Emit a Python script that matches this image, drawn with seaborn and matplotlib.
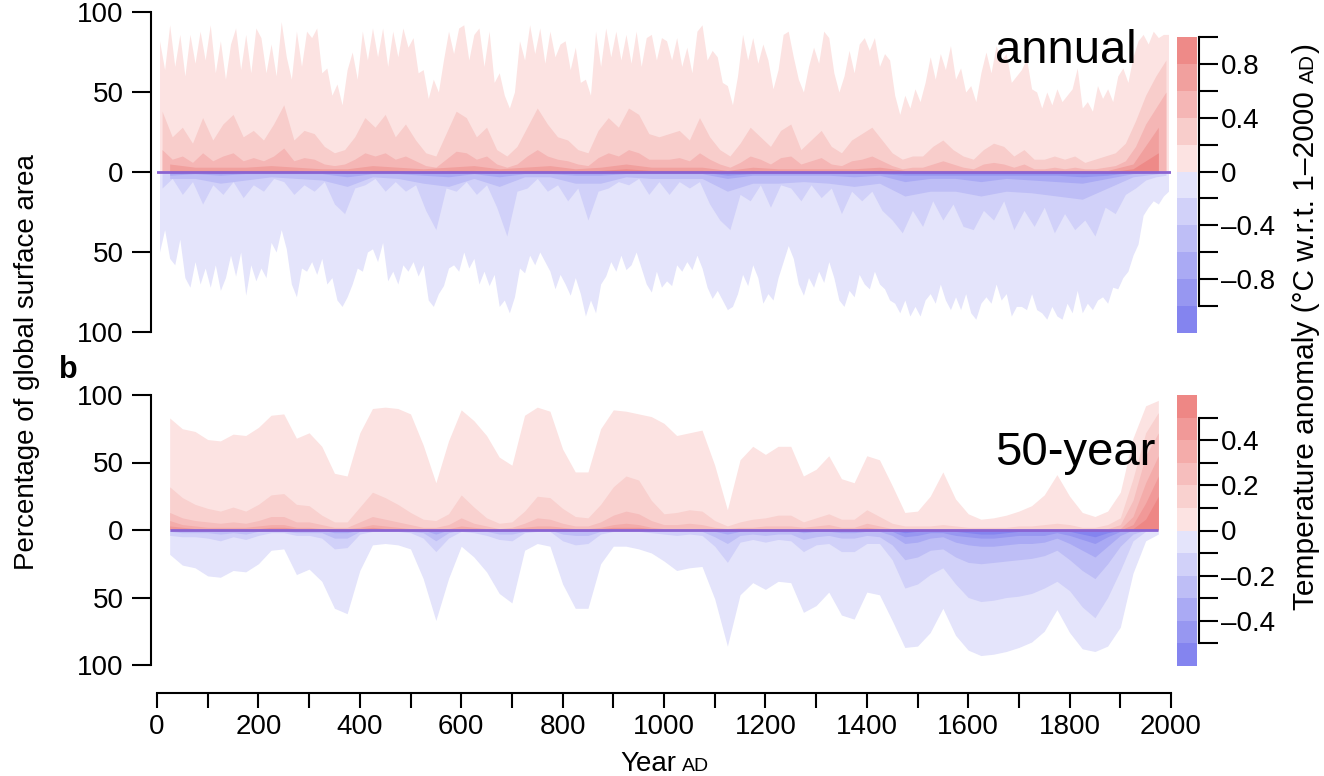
import numpy as np
import matplotlib
matplotlib.use("Agg")
import matplotlib.pyplot as plt
from matplotlib.colors import ListedColormap
from matplotlib.ticker import FuncFormatter
import seaborn as sns

# ---------------- data: annual panel (a) ----------------
ann_years10 = np.arange(5, 2000, 10)      # decade centres
ann_years20 = np.arange(10, 2000, 20)
ann_years50 = np.arange(25, 2000, 50)

# % of area with anomaly > 0 (upper envelope of the annual spikes)
ann_pos0 = [82, 64, 92, 66, 86, 60, 86, 68, 88, 70,
            92, 62, 82, 58, 80, 90, 64, 86, 62, 90,
            84, 62, 80, 60, 94, 72, 58, 88, 66, 88,
            84, 90, 62, 65, 48, 55, 42, 64, 75, 58,
            88, 70, 90, 72, 90, 66, 88, 72, 90, 78,
            84, 62, 64, 46, 58, 50, 70, 88, 74, 90,
            92, 70, 86, 90, 66, 88, 56, 62, 48, 40,
            50, 82, 70, 92, 74, 90, 68, 88, 72, 80,
            82, 64, 78, 56, 58, 48, 88, 66, 90, 72,
            88, 70, 86, 68, 88, 66, 84, 86, 70, 84,
            82, 70, 84, 66, 78, 62, 88, 92, 70, 76,
            72, 56, 54, 42, 60, 86, 70, 84, 68, 80,
            70, 52, 64, 86, 88, 72, 58, 50, 66, 78,
            68, 88, 84, 62, 50, 60, 76, 62, 80, 84,
            76, 84, 66, 74, 70, 48, 36, 48, 40, 52,
            44, 56, 72, 58, 74, 64, 79, 58, 65, 50,
            54, 44, 62, 75, 62, 79, 70, 74, 56, 60,
            64, 71, 52, 50, 40, 50, 42, 52, 44, 48,
            52, 65, 40, 44, 38, 54, 46, 52, 44, 60,
            65, 56, 72, 82, 86, 80, 88, 84, 86, 86]
# % of area with anomaly < 0
ann_neg0 = [50, 36, 54, 58, 42, 66, 72, 56, 70, 60,
            72, 58, 74, 66, 52, 65, 50, 77, 58, 68,
            60, 66, 44, 50, 36, 48, 70, 78, 60, 62,
            56, 64, 54, 70, 66, 80, 84, 78, 70, 60,
            62, 50, 48, 56, 44, 68, 62, 70, 58, 62,
            56, 65, 58, 80, 84, 76, 71, 60, 58, 62,
            50, 60, 54, 70, 62, 71, 64, 84, 80, 88,
            78, 60, 63, 52, 58, 50, 56, 62, 73, 64,
            70, 77, 66, 76, 90, 80, 88, 70, 65, 56,
            62, 52, 61, 58, 50, 60, 70, 75, 62, 72,
            68, 71, 58, 62, 56, 61, 52, 60, 72, 79,
            74, 80, 86, 84, 76, 64, 71, 58, 66, 82,
            76, 80, 66, 56, 46, 54, 70, 77, 66, 72,
            62, 69, 56, 66, 80, 84, 74, 78, 64, 70,
            73, 62, 70, 73, 80, 82, 88, 80, 90, 84,
            90, 80, 76, 82, 70, 80, 86, 78, 86, 76,
            88, 92, 82, 78, 82, 70, 80, 76, 90, 84,
            84, 86, 76, 86, 88, 92, 84, 90, 92, 82,
            88, 74, 88, 82, 86, 80, 78, 82, 72, 73,
            66, 62, 52, 45, 27, 22, 18, 20, 15, 12]
ann_pos1 = [38, 22, 28, 18, 34, 20, 30, 36, 22, 26,
            20, 30, 42, 20, 26, 24, 16, 12, 14, 22,
            34, 28, 36, 22, 30, 20, 12, 10, 24, 38,
            34, 22, 28, 14, 10, 16, 28, 40, 30, 22,
            20, 14, 12, 26, 34, 28, 40, 36, 24, 22,
            24, 26, 20, 34, 22, 14, 10, 18, 28, 22,
            16, 26, 30, 14, 20, 26, 16, 12, 20, 24,
            28, 20, 12, 8, 10, 10, 16, 20, 14, 10,
            8, 14, 18, 16, 10, 14, 8, 8, 10, 8,
            10, 6, 8, 10, 12, 18, 32, 48, 60, 70]
ann_pos2 = [14, 8, 10, 6, 12, 7, 10, 12, 7, 9,
            7, 10, 15, 7, 9, 8, 5, 4, 5, 8,
            12, 10, 12, 8, 10, 7, 4, 3, 8, 13,
            12, 8, 10, 5, 3, 5, 10, 14, 10, 8,
            7, 5, 4, 9, 12, 10, 14, 12, 8, 8,
            8, 9, 7, 12, 8, 5, 3, 6, 10, 8,
            5, 9, 10, 5, 7, 9, 5, 4, 7, 8,
            10, 7, 4, 2, 3, 3, 5, 7, 5, 3,
            2, 5, 6, 5, 3, 5, 2, 2, 3, 2,
            3, 2, 2, 3, 4, 7, 16, 30, 40, 50]
ann_pos3 = [5, 3, 3, 3, 4, 3, 2, 2, 4, 3, 2, 3, 4, 2, 3, 4, 2, 3, 5, 3,
            3, 3, 1, 3, 2, 2, 2, 2, 3, 1, 1, 1, 1, 1, 1, 1, 1, 1, 5, 28]
ann_pos4 = [1, 1, 1, 1, 1, 1, 0, 0, 1, 1, 0, 1, 1, 0, 1, 1, 0, 1, 2, 1,
            1, 1, 0, 1, 0, 0, 0, 0, 1, 0, 0, 0, 0, 0, 0, 0, 0, 0, 2, 12]
ann_neg1 = [10, 4, 14, 6, 20, 8, 14, 6, 16, 8,
            12, 4, 6, 14, 8, 12, 6, 20, 26, 10,
            8, 4, 12, 6, 12, 8, 24, 36, 10, 12,
            6, 14, 8, 22, 40, 12, 10, 4, 12, 8,
            18, 10, 30, 12, 10, 6, 8, 4, 14, 6,
            14, 6, 10, 6, 20, 30, 36, 14, 18, 8,
            22, 8, 10, 18, 8, 16, 10, 26, 12, 18,
            12, 24, 30, 38, 24, 34, 18, 30, 20, 34,
            36, 24, 30, 18, 36, 24, 34, 22, 38, 26,
            36, 30, 40, 22, 26, 14, 10, 5, 3, 2]
ann_neg2 = [4, 4, 7, 5, 3, 4, 5, 9, 3, 4, 7, 9, 4, 9, 3, 3, 7, 7, 3, 4,
            4, 4, 12, 7, 7, 6, 7, 9, 7, 15, 12, 12, 15, 12, 13, 15, 17, 10, 3, 1]
ann_neg3 = [2, 1, 2, 1, 1, 1, 1, 3, 1, 1, 2, 3, 1, 3, 1, 1, 2, 2, 1, 1,
            1, 1, 4, 2, 2, 2, 2, 3, 2, 6, 4, 4, 6, 4, 5, 6, 7, 4, 1, 0]
ann_neg4 = [1, 0, 1, 0, 0, 0, 0, 1, 0, 0, 1, 1, 0, 1, 0, 0, 1, 1, 0, 0,
            0, 0, 2, 1, 1, 1, 1, 1, 1, 2, 2, 2, 2, 2, 2, 2, 3, 2, 0, 0]
ann_neg5 = [0, 0, 0, 0, 0, 0, 0, 0, 0, 0, 0, 0, 0, 0, 0, 0, 0, 0, 0, 0,
            0, 0, 1, 0, 0, 0, 0, 0, 0, 1, 1, 1, 1, 1, 1, 1, 1, 1, 0, 0]

# ---------------- data: 50-year panel (b) ----------------
dec_years = np.arange(25, 1976, 25)
dec_pos0 = [83, 75, 73, 67, 66, 71, 70, 76, 85, 86,
            68, 72, 62, 42, 40, 72, 90, 91, 90, 86,
            63, 35, 66, 89, 81, 70, 54, 48, 85, 91,
            88, 60, 43, 43, 75, 89, 88, 86, 84, 79,
            70, 72, 74, 48, 15, 52, 62, 56, 62, 62,
            40, 45, 55, 38, 35, 55, 52, 33, 13, 14,
            25, 43, 23, 12, 8, 9, 11, 14, 18, 26,
            41, 25, 13, 10, 14, 28, 68, 92, 96]
dec_pos1 = [32, 24, 19, 16, 14, 17, 14, 19, 26, 27,
            19, 18, 11, 6, 6, 17, 28, 24, 19, 13,
            8, 7, 12, 26, 17, 9, 5, 6, 14, 25,
            24, 16, 10, 9, 19, 32, 40, 37, 22, 12,
            13, 15, 14, 7, 3, 6, 8, 9, 11, 11,
            6, 9, 12, 8, 8, 15, 10, 5, 3, 3,
            3, 4, 3, 2, 2, 2, 2, 3, 3, 4,
            5, 4, 2, 2, 4, 9, 38, 72, 87]
dec_pos2 = [13, 9, 7, 6, 5, 6, 5, 7, 10, 10,
            6, 6, 4, 2, 2, 6, 10, 8, 6, 4,
            2, 2, 4, 9, 5, 3, 1, 2, 5, 9,
            8, 5, 3, 3, 6, 11, 14, 12, 7, 4,
            4, 5, 4, 2, 1, 2, 2, 3, 3, 3,
            2, 3, 4, 2, 2, 5, 3, 1, 1, 1,
            1, 1, 1, 1, 1, 1, 1, 1, 1, 1,
            1, 1, 1, 1, 1, 4, 22, 55, 72]
dec_pos3 = [7, 4, 3, 2, 2, 2, 2, 3, 4, 4,
            2, 2, 1, 1, 1, 2, 4, 3, 2, 1,
            1, 1, 1, 3, 2, 1, 0, 1, 2, 3,
            3, 2, 1, 1, 2, 4, 5, 4, 2, 1,
            1, 1, 1, 0, 0, 1, 1, 1, 1, 1,
            1, 1, 1, 1, 1, 2, 1, 0, 0, 0,
            0, 0, 0, 0, 0, 0, 0, 0, 0, 0,
            0, 0, 0, 0, 0, 1, 10, 35, 55]
dec_pos4 = ([3, 2, 1, 1, 1, 1, 1, 1, 2, 2,
             1, 1, 0, 0, 0, 1, 2, 1, 1, 0,
             0, 0, 0, 1, 1, 0, 0, 0, 1, 1,
             1, 1, 0, 0, 1, 2, 2, 2, 1, 0]
            + [0] * 30 + [0, 0, 0, 0, 0, 0, 4, 20, 40])
dec_pos5 = [0] * 76 + [1, 8, 25]
dec_neg0 = [18, 26, 28, 34, 35, 30, 31, 25, 15, 14,
            33, 29, 38, 58, 62, 30, 11, 10, 11, 14,
            36, 67, 36, 12, 20, 31, 47, 54, 15, 10,
            12, 40, 58, 58, 25, 12, 12, 14, 17, 23,
            30, 28, 27, 51, 86, 48, 39, 44, 38, 39,
            61, 56, 46, 63, 66, 46, 48, 67, 87, 86,
            76, 58, 78, 89, 93, 92, 90, 87, 83, 75,
            59, 76, 88, 90, 86, 72, 32, 8, 3]
dec_neg1 = [4, 5, 5, 6, 8, 5, 7, 4, 2, 2,
            4, 4, 6, 14, 13, 3, 1, 1, 1, 2,
            6, 16, 6, 1, 2, 4, 7, 8, 2, 1,
            1, 8, 11, 10, 3, 1, 1, 1, 2, 3,
            4, 3, 4, 12, 24, 9, 7, 9, 7, 8,
            16, 11, 10, 16, 16, 10, 10, 22, 43, 40,
            33, 28, 40, 50, 53, 52, 50, 49, 47, 43,
            38, 45, 57, 65, 50, 30, 8, 1, 0]
dec_neg2 = [1, 2, 2, 2, 3, 2, 3, 1, 1, 1,
            2, 2, 2, 6, 6, 1, 0, 0, 0, 1,
            2, 8, 2, 0, 1, 1, 3, 3, 1, 0,
            0, 3, 4, 4, 1, 0, 0, 0, 1, 1,
            1, 1, 1, 5, 10, 4, 3, 4, 3, 3,
            7, 5, 4, 6, 6, 4, 5, 11, 22, 20,
            15, 14, 20, 24, 25, 24, 23, 22, 21, 19,
            15, 22, 30, 36, 25, 12, 3, 0, 0]
dec_neg3 = [0, 0, 0, 0, 1, 0, 1, 0, 0, 0,
            0, 0, 0, 2, 2, 0, 0, 0, 0, 0,
            0, 3, 0, 0, 0, 0, 1, 1, 0, 0,
            0, 1, 1, 1, 0, 0, 0, 0, 0, 0,
            0, 0, 0, 1, 3, 1, 0, 1, 0, 0,
            2, 1, 1, 2, 2, 1, 1, 4, 10, 9,
            6, 5, 9, 11, 12, 12, 11, 10, 10, 9,
            6, 10, 15, 20, 12, 4, 0, 0, 0]
dec_neg4 = ([0] * 44 + [1] + [0] * 5
            + [0, 0, 0, 0, 0, 0, 0, 1, 5, 4]
            + [2, 2, 4, 5, 6, 6, 5, 4, 4, 4]
            + [2, 4, 7, 10, 5, 1, 0, 0, 0])
dec_neg5 = ([0] * 50
            + [0, 0, 0, 0, 0, 0, 0, 0, 2, 1]
            + [0, 0, 1, 2, 3, 3, 2, 1, 1, 1]
            + [0, 1, 3, 5, 2, 0, 0, 0, 0])

x_ticks = list(range(0, 2001, 100))
x_labels = [str(v) if v % 200 == 0 else "" for v in x_ticks]
y_ticks = [-100, -50, 0, 50, 100]

ann_bounds = np.round(np.arange(-1.2, 1.01, 0.2), 1)
ann_ticks = np.round(np.arange(-1.0, 1.01, 0.2), 1)
ann_labelled = [-0.8, -0.4, 0.0, 0.4, 0.8]
dec_bounds = np.round(np.arange(-0.6, 0.61, 0.1), 1)
dec_ticks = np.round(np.arange(-0.5, 0.51, 0.1), 1)
dec_labelled = [-0.4, -0.2, 0.0, 0.2, 0.4]

# ---------------- style ----------------
sns.set_style("ticks")
plt.rcParams["font.family"] = ["Liberation Sans", "DejaVu Sans"]
plt.rcParams["axes.linewidth"] = 1.5
for k in ("text.color", "axes.labelcolor", "xtick.color", "ytick.color", "axes.edgecolor"):
    plt.rcParams[k] = "black"

ann_reds = sns.blend_palette(["#fce3e2", "#ee8a88"], 5)
ann_blues = sns.blend_palette(["#e4e4fb", "#8484ef"], 6)
dec_reds = sns.blend_palette(["#fce3e2", "#ee8785"], 6)
dec_blues = sns.blend_palette(["#e4e4fb", "#8484ef"], 6)
zero_col = "#8a63d2"

W, H = 1324, 776
fig = plt.figure(figsize=(W / 100, H / 100), dpi=100)


def rect(x0, y0, x1, y1):
    return [x0 / W, 1 - y1 / H, (x1 - x0) / W, (y1 - y0) / H]


ax1 = fig.add_axes(rect(157, 12, 1171, 332))
ax2 = fig.add_axes(rect(157, 395, 1171, 665))
cb1 = fig.add_axes(rect(1177, 37, 1197, 333))
cb2 = fig.add_axes(rect(1177, 395, 1197, 666))

# panel a
for xs, ys, c in [(ann_years10, ann_pos0, ann_reds[0]), (ann_years20, ann_pos1, ann_reds[1]),
                  (ann_years20, ann_pos2, ann_reds[2]), (ann_years50, ann_pos3, ann_reds[3]),
                  (ann_years50, ann_pos4, ann_reds[4])]:
    ax1.fill_between(xs, 0, np.asarray(ys, float), color=c, linewidth=0)
for xs, ys, c in [(ann_years10, ann_neg0, ann_blues[0]), (ann_years20, ann_neg1, ann_blues[1]),
                  (ann_years50, ann_neg2, ann_blues[2]), (ann_years50, ann_neg3, ann_blues[3]),
                  (ann_years50, ann_neg4, ann_blues[4]), (ann_years50, ann_neg5, ann_blues[5])]:
    ax1.fill_between(xs, 0, -np.asarray(ys, float), color=c, linewidth=0)
ax1.axhline(0, color=zero_col, lw=2, zorder=5)

# panel b
for ys, c in zip([dec_pos0, dec_pos1, dec_pos2, dec_pos3, dec_pos4, dec_pos5], dec_reds):
    ax2.fill_between(dec_years, 0, np.asarray(ys, float), color=c, linewidth=0)
for ys, c in zip([dec_neg0, dec_neg1, dec_neg2, dec_neg3, dec_neg4, dec_neg5], dec_blues):
    ax2.fill_between(dec_years, 0, -np.asarray(ys, float), color=c, linewidth=0)
ax2.hlines(0, dec_years[0], dec_years[-1], color=zero_col, lw=2, zorder=5)

absfmt = FuncFormatter(lambda v, p: f"{abs(int(round(v)))}")
for ax in (ax1, ax2):
    ax.set_xlim(0, 2000)
    ax.set_ylim(-100, 100)
    ax.set_yticks(y_ticks)
    ax.yaxis.set_major_formatter(absfmt)
    ax.tick_params(axis="y", length=14, width=1.5, labelsize=20, pad=6, color="black")

sns.despine(ax=ax1, bottom=True, offset={"left": 4})
ax1.set_xticks([])
sns.despine(ax=ax2, offset={"left": 4, "bottom": 20})
ax2.set_xticks(x_ticks)
ax2.set_xticklabels(x_labels)
ax2.tick_params(axis="x", length=11, width=1.5, labelsize=20, pad=4)

ax1.text(1653, 68, "annual", fontsize=34, ha="left", va="baseline")
ax2.text(1653, 48, "50-year", fontsize=34, ha="left", va="baseline")


def lab(v, show):
    if not show:
        return ""
    if abs(v) < 1e-9:
        return "0"
    return ("\u2013" if v < 0 else "") + f"{abs(v):.1f}"


def colour_bar(ax, bounds, blues, reds, ticks, labelled):
    cols = list(blues[::-1]) + list(reds)
    cmap = ListedColormap(cols)
    vals = np.arange(len(cols)).reshape(-1, 1)
    ax.pcolormesh([0, 1], bounds, vals, cmap=cmap, vmin=-0.5, vmax=len(cols) - 0.5,
                  shading="flat")
    ax.set_xlim(0, 1)
    ax.set_ylim(bounds[0], bounds[-1])
    ax.set_xticks([])
    ax.yaxis.tick_right()
    ax.set_yticks(ticks)
    ax.set_yticklabels([lab(t, any(abs(t - l) < 1e-6 for l in labelled)) for t in ticks])
    for s in ("top", "bottom", "left"):
        ax.spines[s].set_visible(False)
    ax.spines["right"].set_bounds(ticks[0], ticks[-1])
    ax.spines["right"].set_position(("outward", 1.5))
    ax.tick_params(axis="y", length=14, width=1.5, labelsize=20, pad=2)


colour_bar(cb1, ann_bounds, ann_blues, ann_reds, ann_ticks, ann_labelled)
colour_bar(cb2, dec_bounds, dec_blues, dec_reds, dec_ticks, dec_labelled)

# texts
fig.text(27 / W, 1 - 362 / H, "Percentage of global surface area", rotation=90,
         ha="center", va="center", fontsize=20)
fig.text(68 / W, 1 - 370 / H, "b", fontsize=22, fontweight="bold", ha="center", va="center")

fig.canvas.draw()
renderer = fig.canvas.get_renderer()

# "Year AD"
t = fig.text(620 / W, 1 - 771 / H, "Year", fontsize=20, ha="left", va="baseline")
bb = t.get_window_extent(renderer)
fig.text((620 + bb.width + 6) / W, 1 - 771 / H, "AD", fontsize=14, ha="left", va="baseline")

# right label, rotated, built from pieces
cur = H - 610
for s, size, gap in [("Temperature anomaly (\u00b0C w.r.t. 1\u20132000", 21.5, 8),
                     ("AD", 15, 1), (")", 21.5, 0)]:
    t = fig.text(1314 / W, cur / H, s, rotation=90, rotation_mode="anchor",
                 ha="left", va="baseline", fontsize=size)
    bb = t.get_window_extent(renderer)
    cur += bb.height + gap

fig.savefig("out.png", dpi=100)
